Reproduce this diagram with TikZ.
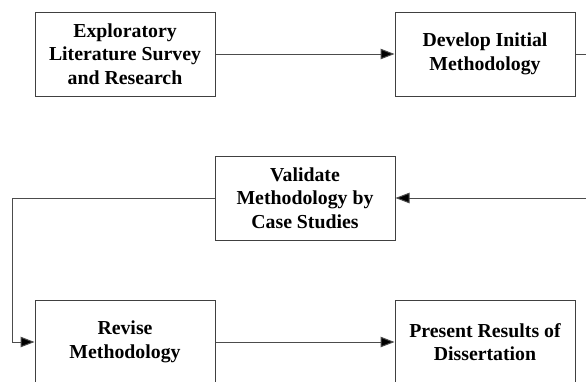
\documentclass[tikz,border=0pt]{standalone}
\usepackage{fontspec}
\setmainfont{Liberation Serif}
\usetikzlibrary{arrows.meta}
\begin{document}
\begin{tikzpicture}[x=1pt,y=-1pt,
  stagebox/.style={draw=black!75, line width=1pt, minimum width=180pt, minimum height=84pt,
    inner sep=0pt, align=center, font=\fontsize{19.8}{23.5}\selectfont\bfseries},
  link/.style={draw=black!70, line width=1pt},
  arr/.style={link, -{Triangle[length=14pt, width=10.5pt, fill=black]}}]
  \useasboundingbox (0,0) rectangle (586,381);
  \clip (0,0) rectangle (586,381);
  \fill[white] (0,0) rectangle (586,381);

  % process stages
  \node[stagebox] (survey)   at (125,54)  {Exploratory\\Literature Survey\\and Research};
  \node[stagebox] (develop)  at (485,54)  {Develop Initial\\Methodology};
  \node[stagebox] (validate) at (305,198) {Validate\\Methodology by\\Case Studies};
  \node[stagebox] (revise)   at (125,342) {Revise\\Methodology};
  \node[stagebox] (present)  at (485,342) {Present Results of\\Dissertation};

  % loose ends and bend points
  \coordinate (outR) at (586,54);
  \coordinate (inR)  at (586,198);
  \coordinate (bend) at (12.5,198);

  % connectors
  \draw[arr] (survey) -- (develop);
  \draw[link] (develop.east) -- (outR);
  \draw[arr] (inR) -- (validate.east);
  \draw[arr] (validate.west) -- (bend) |- (revise.west);
  \draw[arr] (revise) -- (present);
\end{tikzpicture}
\end{document}
